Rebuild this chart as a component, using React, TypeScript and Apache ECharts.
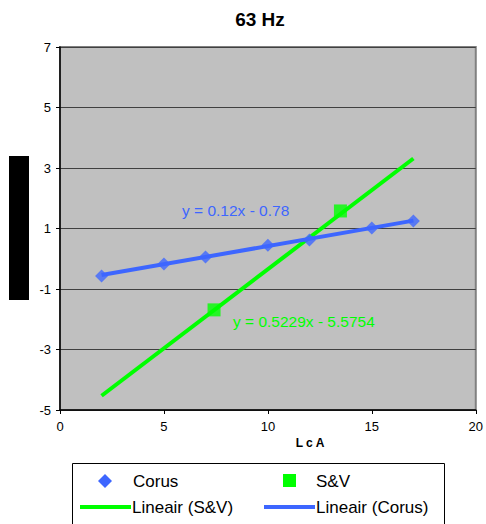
import React, { useEffect, useRef } from "react";
import * as echarts from "echarts";

// Measured points
const corusX = [2, 5, 7, 10, 12, 15, 17];
const corusY = [-0.57, -0.17, 0.06, 0.45, 0.62, 1.02, 1.25];
const svX = [7.41, 13.49];
const svY = [-1.69, 1.58];

// Linear trendlines (slope, intercept) and their drawn x range
const corusFit = [0.12, -0.78];
const svFit = [0.5229, -5.5754];
const fitRange = [2, 17];

const xTicks = [0, 5, 10, 15, 20];
const yTicks = [-5, -3, -1, 1, 3, 5, 7];

const BLUE = "#3d66ff";
const GREEN = "#00ff00";
const FONT = "Liberation Sans, Arial, sans-serif";

const fitLine = (fit: number[]) => fitRange.map((x) => [x, fit[0] * x + fit[1]]);

const legendText = (text: string, x: number, y: number) => ({
  type: "text",
  x,
  y,
  style: {
    text,
    font: `17px ${FONT}`,
    fill: "#000",
    verticalAlign: "middle",
  },
});

export default function App() {
  const ref = useRef<HTMLDivElement>(null);
  useEffect(() => {
    if (!ref.current) return;
    const chart = echarts.init(ref.current, null, { renderer: "svg" });
    chart.setOption({
      animation: false,
      backgroundColor: "#ffffff",
      textStyle: { fontFamily: FONT },
      grid: {
        left: 60,
        top: 47,
        right: 7,
        bottom: 114,
        show: true,
        backgroundColor: "#c0c0c0",
        borderColor: "#808080",
        borderWidth: 2,
      },
      xAxis: {
        type: "value",
        min: xTicks[0],
        max: xTicks[xTicks.length - 1],
        interval: 5,
        axisLine: { show: true, onZero: false, lineStyle: { color: "#000", width: 1.5 } },
        axisTick: { show: true, inside: false, length: 4, lineStyle: { color: "#000" } },
        axisLabel: { color: "#000", fontSize: 13, margin: 10, fontFamily: FONT },
        splitLine: { show: false },
      },
      yAxis: {
        type: "value",
        min: yTicks[0],
        max: yTicks[yTicks.length - 1],
        interval: 2,
        axisLine: { show: true, onZero: false, lineStyle: { color: "#000", width: 1.5 } },
        axisTick: { show: true, inside: false, length: 4, lineStyle: { color: "#000" } },
        axisLabel: { color: "#000", fontSize: 13, margin: 9, fontFamily: FONT },
        splitLine: { show: true, lineStyle: { color: "#404040", width: 1.2 } },
      },
      series: [
        {
          name: "Lineair (S&V)",
          type: "line",
          data: fitLine(svFit),
          symbol: "none",
          lineStyle: { color: GREEN, width: 4 },
          z: 2,
        },
        {
          name: "Lineair (Corus)",
          type: "line",
          data: fitLine(corusFit),
          symbol: "none",
          lineStyle: { color: BLUE, width: 4 },
          z: 3,
        },
        {
          name: "Corus",
          type: "scatter",
          data: corusX.map((x, i) => [x, corusY[i]]),
          symbol: "diamond",
          symbolSize: 13,
          itemStyle: { color: BLUE },
          z: 4,
        },
        {
          name: "S&V",
          type: "scatter",
          data: svX.map((x, i) => [x, svY[i]]),
          symbol: "rect",
          symbolSize: 13,
          itemStyle: { color: GREEN },
          z: 4,
        },
      ],
      graphic: [
        {
          type: "text",
          x: 260,
          y: 19,
          style: {
            text: "63 Hz",
            font: `bold 19px ${FONT}`,
            fill: "#000",
            align: "center",
            verticalAlign: "middle",
          },
        },
        {
          type: "rect",
          shape: { x: 9, y: 156, width: 20, height: 144 },
          style: { fill: "#000" },
        },
        {
          type: "text",
          x: 310,
          y: 443,
          style: {
            text: "L c A",
            font: `bold 12px ${FONT}`,
            fill: "#000",
            align: "center",
            verticalAlign: "middle",
          },
        },
        {
          type: "text",
          x: 182,
          y: 210,
          style: {
            text: "y = 0.12x - 0.78",
            font: `15.5px ${FONT}`,
            fill: BLUE,
            verticalAlign: "middle",
          },
        },
        {
          type: "text",
          x: 233,
          y: 321,
          style: {
            text: "y = 0.5229x - 5.5754",
            font: `15.5px ${FONT}`,
            fill: GREEN,
            verticalAlign: "middle",
          },
        },
        // legend box
        {
          type: "rect",
          shape: { x: 72.5, y: 463.5, width: 372, height: 70 },
          style: { fill: "#fff", stroke: "#000", lineWidth: 1 },
        },
        {
          type: "polygon",
          shape: { points: [[105, 474], [112, 481], [105, 488], [98, 481]] },
          style: { fill: BLUE },
        },
        legendText("Corus", 133, 481),
        {
          type: "rect",
          shape: { x: 283, y: 474, width: 13, height: 13 },
          style: { fill: GREEN },
        },
        legendText("S&V", 316, 481),
        {
          type: "line",
          shape: { x1: 80, y1: 507, x2: 131, y2: 507 },
          style: { stroke: GREEN, lineWidth: 4 },
        },
        legendText("Lineair (S&V)", 132, 507),
        {
          type: "line",
          shape: { x1: 264, y1: 507, x2: 315, y2: 507 },
          style: { stroke: BLUE, lineWidth: 4 },
        },
        legendText("Lineair (Corus)", 316, 507),
      ],
    });
    return () => chart.dispose();
  }, []);
  return <div ref={ref} style={{ width: 486, height: 524, position: "absolute", left: 0, top: 0 }} />;
}
